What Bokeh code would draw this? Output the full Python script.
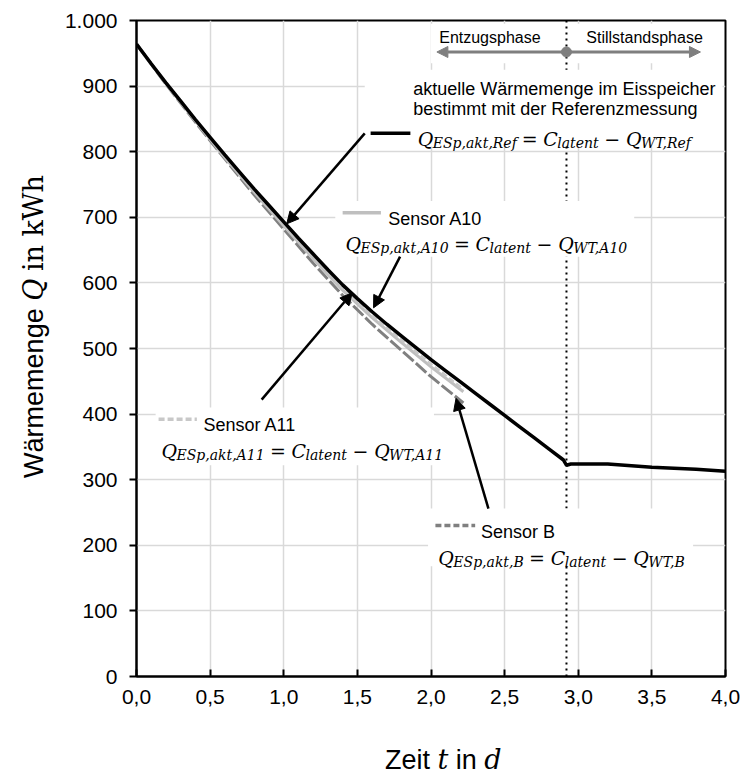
import math
from bokeh.plotting import figure
from bokeh.layouts import row, column
from bokeh.models import (Range1d, FixedTicker, Label, Arrow, NormalHead, Span,
                          BoxAnnotation)
from bokeh.embed import file_html
from bokeh.resources import INLINE

# ---------------------------------------------------------------- data
# reference measurement: stored heat in the ice storage (kWh) over time (d)
t_ref = [0.0, 0.1, 0.2, 0.3, 0.4, 0.5, 0.6, 0.7, 0.8, 0.9, 1.0, 1.1, 1.2, 1.3,
         1.4, 1.5, 1.6, 1.7, 1.8, 1.9, 2.0, 2.1, 2.2, 2.3, 2.4, 2.5, 2.6, 2.7,
         2.8, 2.9, 2.92, 2.95, 3.2, 3.5, 3.8, 4.0]
q_ref = [964, 934, 905, 877, 849, 822, 795, 769, 743, 718, 693, 668, 644, 620,
         597, 576, 556, 537, 519, 501, 483, 466, 449, 432, 415, 398, 381, 364,
         347, 330, 322, 324, 324, 319, 316, 313]

# sensor based estimates (extraction phase only)
t_sensor = [0.0, 0.2, 0.4, 0.6, 0.8, 1.0, 1.2, 1.4, 1.6, 1.8, 2.0, 2.22]
q_a10 = [964, 904, 847, 791, 738, 687, 637, 589, 547, 509, 472, 434]
q_a11 = [964, 904, 847, 793, 740, 689, 640, 592, 550, 513, 476, 438]
q_b = [964, 903, 845, 789, 734, 682, 630, 581, 537, 497, 457, 417]

t_switch = 2.92          # end of extraction / start of standstill
phase_q = 952            # height of the phase arrow

x_ticks = [0.0, 0.5, 1.0, 1.5, 2.0, 2.5, 3.0, 3.5, 4.0]
x_tick_labels = ["0,0", "0,5", "1,0", "1,5", "2,0", "2,5", "3,0", "3,5", "4,0"]
y_ticks = [0, 100, 200, 300, 400, 500, 600, 700, 800, 900, 1000]
y_tick_labels = ["0", "100", "200", "300", "400", "500", "600", "700", "800",
                 "900", "1.000"]

# ---------------------------------------------------------------- text helpers
SANS = "Liberation Sans"
SERIF = "DejaVu Serif"
_SANS_EM = {" ": .278, ",": .278, ".": .278, "i": .222, "l": .222, "j": .222,
            "f": .278, "t": .278, "r": .333, "m": .833, "w": .722, "s": .5,
            "c": .5, "k": .5, "z": .5, "y": .5, "v": .5, "x": .5, "W": .944,
            "Z": .611, "E": .667, "A": .667, "B": .667, "S": .667, "R": .722}
_SERIF_EM = {" ": .318, ",": .318, "Q": .787, "E": .715, "S": .685, "p": .64,
             "a": .596, "k": .6, "t": .402, "R": .734, "e": .592, "f": .352,
             "C": .734, "l": .32, "n": .64, "W": 1.03, "T": .668, "A": .722,
             "B": .732, "0": .636, "1": .636, "=": .838, "\u2212": .838,
             "i": .32, "h": .644, "d": .64}


def text_width(s, family, size):
    table, dflt = (_SANS_EM, .556) if family == SANS else (_SERIF_EM, .6)
    return sum(table.get(c, dflt) for c in s) * size


def run(fig, x, y, pieces, anchor="left", vertical=False):
    """Place (text, family, style, size, dy) pieces side by side; a bare
    number in the list is a horizontal gap in pixels."""
    widths = [pc if isinstance(pc, (int, float)) else text_width(pc[0], pc[1], pc[3])
              for pc in pieces]
    total = sum(widths)
    pos = {"left": 0, "center": -total / 2, "right": -total}[anchor]
    for pc, w in zip(pieces, widths):
        if not isinstance(pc, (int, float)):
            txt, fam, style, size, dy = pc
            kw = dict(x=x, y=y, text=txt, text_font=fam, text_font_style=style,
                      text_font_size=f"{size}px", text_color="black",
                      text_align="left", text_baseline="alphabetic")
            if vertical:
                kw.update(angle=math.pi / 2, x_offset=-dy, y_offset=pos)
            else:
                kw.update(x_offset=pos, y_offset=dy)
            fig.add_layout(Label(**kw))
        pos += w
    return total


# ---------------------------------------------------------------- main figure
p = figure(width=695, height=735, output_backend="svg", toolbar_location=None,
           title=None, x_range=Range1d(0, 4), y_range=Range1d(0, 1000),
           min_border_left=86, min_border_right=20, min_border_top=20,
           min_border_bottom=59, background_fill_color="white",
           border_fill_color="white")
p.outline_line_color = "black"
p.outline_line_width = 2

for ax in (p.xaxis, p.yaxis):
    ax.axis_line_color = "black"
    ax.axis_line_width = 2
    ax.major_tick_line_color = "black"
    ax.major_tick_line_width = 2
    ax.minor_tick_line_color = None
    ax.major_label_text_font = SANS
    ax.major_label_text_font_size = "21px"
    ax.major_label_text_color = "black"

p.xaxis.ticker = FixedTicker(ticks=x_ticks)
p.xaxis.major_label_overrides = dict(zip(x_ticks, x_tick_labels))
p.xaxis.major_tick_in = 7
p.xaxis.major_tick_out = 0
p.xaxis.major_label_standoff = 13
p.yaxis.ticker = FixedTicker(ticks=y_ticks)
p.yaxis.major_label_overrides = dict(zip(y_ticks, y_tick_labels))
p.yaxis.major_tick_in = 0
p.yaxis.major_tick_out = 7
p.yaxis.major_label_standoff = 12

p.grid.grid_line_color = "#d9d9d9"
p.grid.grid_line_width = 1.5

M, S = 19, 14
GAP = 0.3 * M


def formula(x, y, sub1, sub2):
    pieces = [("Q", SERIF, "italic", M, -6), (sub1, SERIF, "italic", S, -10), GAP,
              ("=", SERIF, "normal", M, -6), GAP, ("C", SERIF, "italic", M, -6),
              ("latent", SERIF, "italic", S, -10), GAP,
              ("\u2212", SERIF, "normal", M, -6), GAP,
              ("Q", SERIF, "italic", M, -6), (sub2, SERIF, "italic", S, -10)]
    run(p, x, y, pieces)


def sans(x, y, txt, size=18, anchor="left"):
    run(p, x, y, [(txt, SANS, "normal", size, -6)], anchor=anchor)


def white_box(left, right, bottom, top):
    p.add_layout(BoxAnnotation(left=left, right=right, bottom=bottom, top=top,
                               fill_color="white", fill_alpha=1.0,
                               line_color=None, level="underlay"))


# text backgrounds hide the grid (phase boxes leave the dotted line visible)
white_box(2.0, 2.88, 935, 995)
white_box(2.96, 3.97, 935, 995)
p.add_layout(Span(location=t_switch, dimension="height", line_color="black",
                  line_width=2, line_dash="dotted", level="underlay"))
white_box(1.55, 3.98, 808, 925)     # reference annotation
white_box(1.35, 3.38, 640, 725)     # sensor A10
white_box(0.13, 2.02, 322, 410)     # sensor A11
white_box(1.98, 3.78, 168, 256)     # sensor B

# curves
p.line(t_sensor, q_b, line_color="#808080", line_width=3, line_dash="14 3")
p.line(t_sensor, q_a10, line_color="#bfbfbf", line_width=3)
p.line(t_sensor, q_a11, line_color="#c8c8c8", line_width=2.5, line_dash="6 3")
p.line(t_ref, q_ref, line_color="black", line_width=3.5)

# phase arrow with marker at the switch time
grey = "#7f7f7f"
p.add_layout(Arrow(x_start=2.04, y_start=phase_q, x_end=3.83, y_end=phase_q,
                   line_color=grey, line_width=3,
                   start=NormalHead(size=11, fill_color=grey, line_color=grey),
                   end=NormalHead(size=11, fill_color=grey, line_color=grey)))
p.scatter([t_switch], [phase_q], size=10, color=grey)
run(p, 2.40, 983, [("Entzugsphase", SANS, "normal", 16, -6)], anchor="center")
run(p, 3.45, 983, [("Stillstandsphase", SANS, "normal", 16, -6)], anchor="center")

# annotations
L = 1.88
sans(L, 905, "aktuelle Wärmemenge im Eisspeicher")
sans(L, 874, "bestimmt mit der Referenzmessung")
p.segment(x0=[L - 0.29], y0=[828], x1=[L - 0.02], y1=[828], line_color="black",
          line_width=3.5)
formula(L + 0.03, 828, "ESp,akt,Ref", "WT,Ref")

p.segment(x0=[1.40], y0=[707], x1=[1.66], y1=[707], line_color="#bfbfbf",
          line_width=3.5)
sans(1.71, 707, "Sensor A10")
formula(1.42, 668, "ESp,akt,A10", "WT,A10")

p.segment(x0=[0.15], y0=[392], x1=[0.41], y1=[392], line_color="#c8c8c8",
          line_width=3.5, line_dash="6 3")
sans(0.455, 392, "Sensor A11")
formula(0.17, 353, "ESp,akt,A11", "WT,A11")

p.segment(x0=[2.03], y0=[230], x1=[2.30], y1=[230], line_color="#808080",
          line_width=3.5, line_dash="6 3")
sans(2.34, 230, "Sensor B")
formula(2.05, 190, "ESp,akt,B", "WT,B")


def pointer(x0, y0, x1, y1):
    p.add_layout(Arrow(x_start=x0, y_start=y0, x_end=x1, y_end=y1,
                       line_color="black", line_width=2.5, start=None,
                       end=NormalHead(size=12, fill_color="black",
                                      line_color="black")))


pointer(1.55, 828, 1.02, 690)
pointer(1.79, 640, 1.61, 562)
pointer(0.85, 422, 1.465, 585)
pointer(2.39, 256, 2.17, 424)

# ---------------------------------------------------------------- axis titles
T = 27


def title_fig(w, h):
    f = figure(width=w, height=h, output_backend="svg", toolbar_location=None,
               title=None, x_range=Range1d(0, w), y_range=Range1d(0, h),
               x_axis_location=None, y_axis_location=None, min_border=0,
               background_fill_color="white", border_fill_color="white")
    f.outline_line_color = None
    f.grid.visible = False
    return f


ytitle = title_fig(50, 776)
run(ytitle, 33, 450, [("Wärmemenge", SANS, "normal", T, 0), 0.278 * T,
                      ("Q", SERIF, "italic", T, 0), 0.318 * T,
                      ("in", SERIF, "normal", T, 0), 0.318 * T,
                      ("kWh", SERIF, "normal", T, 0)],
    anchor="center", vertical=True)

xtitle = title_fig(695, 41)
run(xtitle, 362, 17, [("Zeit", SANS, "normal", T, 0), 0.278 * T,
                      ("t", SERIF, "italic", T, 0), 0.278 * T,
                      ("in", SANS, "normal", T, 0), 0.278 * T,
                      ("d", SERIF, "italic", T, 0)],
    anchor="center")

page = row(ytitle, column(p, xtitle, spacing=0), spacing=0)
open("out.html", "w").write(file_html(page, INLINE))
